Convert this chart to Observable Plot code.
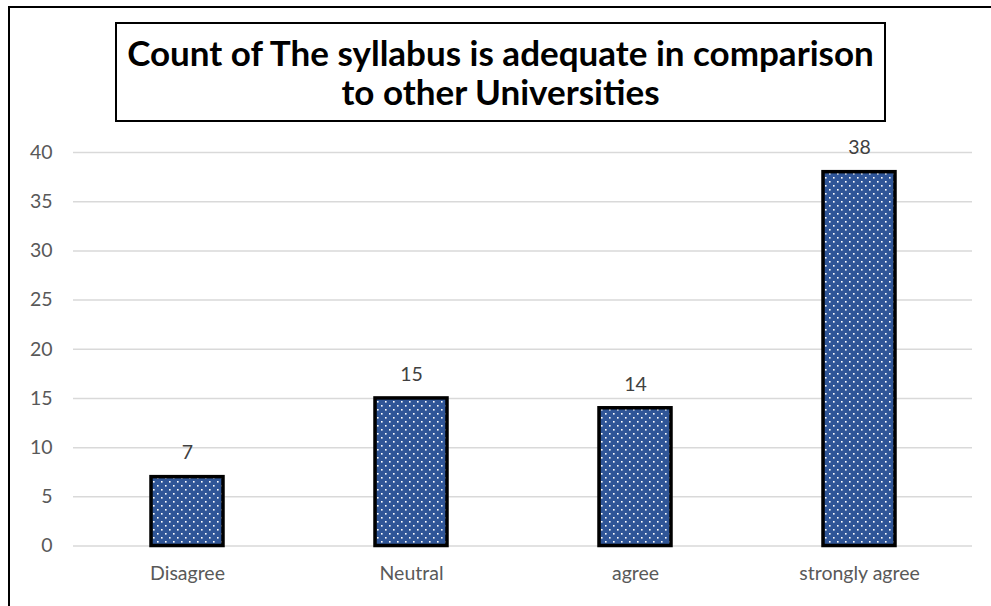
<!DOCTYPE html>
<html>
<head>
<meta charset="utf-8">
<script src="https://cdn.jsdelivr.net/npm/d3@7"></script>
<script src="https://cdn.jsdelivr.net/npm/@observablehq/plot@0.6"></script>
<style>
  html, body { margin: 0; padding: 0; background: #fff; }
  #wrap { position: relative; width: 991px; height: 606px; overflow: hidden; background: #fff; }
  #wrap svg { position: absolute; left: 0; top: 0; }
  .bt { position: absolute; left: 8px; top: 6px; width: 983px; height: 2px; background: #000; }
  .bl { position: absolute; left: 8px; top: 6px; width: 2px; height: 600px; background: #000; }
  #title {
    position: absolute; left: 115px; top: 22px; width: 767px; height: 96px;
    border: 2px solid #000; background: #fff; box-sizing: content-box;
    font-family: Lato, "Open Sans", sans-serif; font-weight: bold; font-size: 35px;
    line-height: 39px; text-align: center; color: #000;
    display: flex; flex-direction: column; justify-content: center;
  }
</style>
</head>
<body>
<div id="wrap">
  <div class="bt"></div>
  <div class="bl"></div>
</div>
<script>
const categories = ["Disagree", "Neutral", "agree", "strongly agree"];
const counts = [7, 15, 14, 38];
const yTicks = [0, 5, 10, 15, 20, 25, 30, 35, 40];
const titleLines = ["Count of The syllabus is adequate in comparison", "to other Universities"];

const data = categories.map((c, i) => ({category: c, count: counts[i]}));
const font = "Lato, 'Open Sans', sans-serif";

const chart = Plot.plot({
  width: 991,
  height: 606,
  marginTop: 152,
  marginBottom: 60.5,
  marginLeft: 73,
  marginRight: 19,
  style: {fontFamily: font, fontSize: "19.5px", color: "#595959", background: "transparent"},
  x: {domain: categories, paddingInner: 0.68, paddingOuter: 0.34, label: null},
  y: {domain: [0, 40], ticks: yTicks, label: null},
  marks: [
    Plot.gridY(yTicks, {stroke: "#d9d9d9", strokeOpacity: 1, strokeWidth: 1.5}),
    Plot.axisY(yTicks, {tickSize: 0, tickPadding: 21, label: null, fill: "#595959", fontSize: 19.5}),
    Plot.axisX({tickSize: 0, tickPadding: 20, label: null, fill: "#595959", fontSize: 19.5}),
    Plot.barY(data, {x: "category", y: "count", fill: "url(#dots)", stroke: "#000", strokeWidth: 3.5}),
    Plot.text(data, {x: "category", y: "count", text: d => String(d.count), dy: -24, fill: "#404040", fontSize: 19.5})
  ]
});

// dotted fill pattern
const svg = d3.select(chart);
const defs = svg.insert("defs", ":first-child");
const pat = defs.append("pattern")
  .attr("id", "dots").attr("patternUnits", "userSpaceOnUse")
  .attr("width", 8).attr("height", 8);
pat.append("rect").attr("width", 8).attr("height", 8).attr("fill", "#2F5597");
pat.append("rect").attr("x", 1).attr("y", 1).attr("width", 1.6).attr("height", 1.6).attr("fill", "#fff");
pat.append("rect").attr("x", 5).attr("y", 5).attr("width", 1.6).attr("height", 1.6).attr("fill", "#fff");

const wrap = document.getElementById("wrap");
wrap.insertBefore(chart, wrap.firstChild);

const title = document.createElement("div");
title.id = "title";
titleLines.forEach(t => { const d = document.createElement("div"); d.textContent = t; title.appendChild(d); });
wrap.appendChild(title);
</script>
</body>
</html>
